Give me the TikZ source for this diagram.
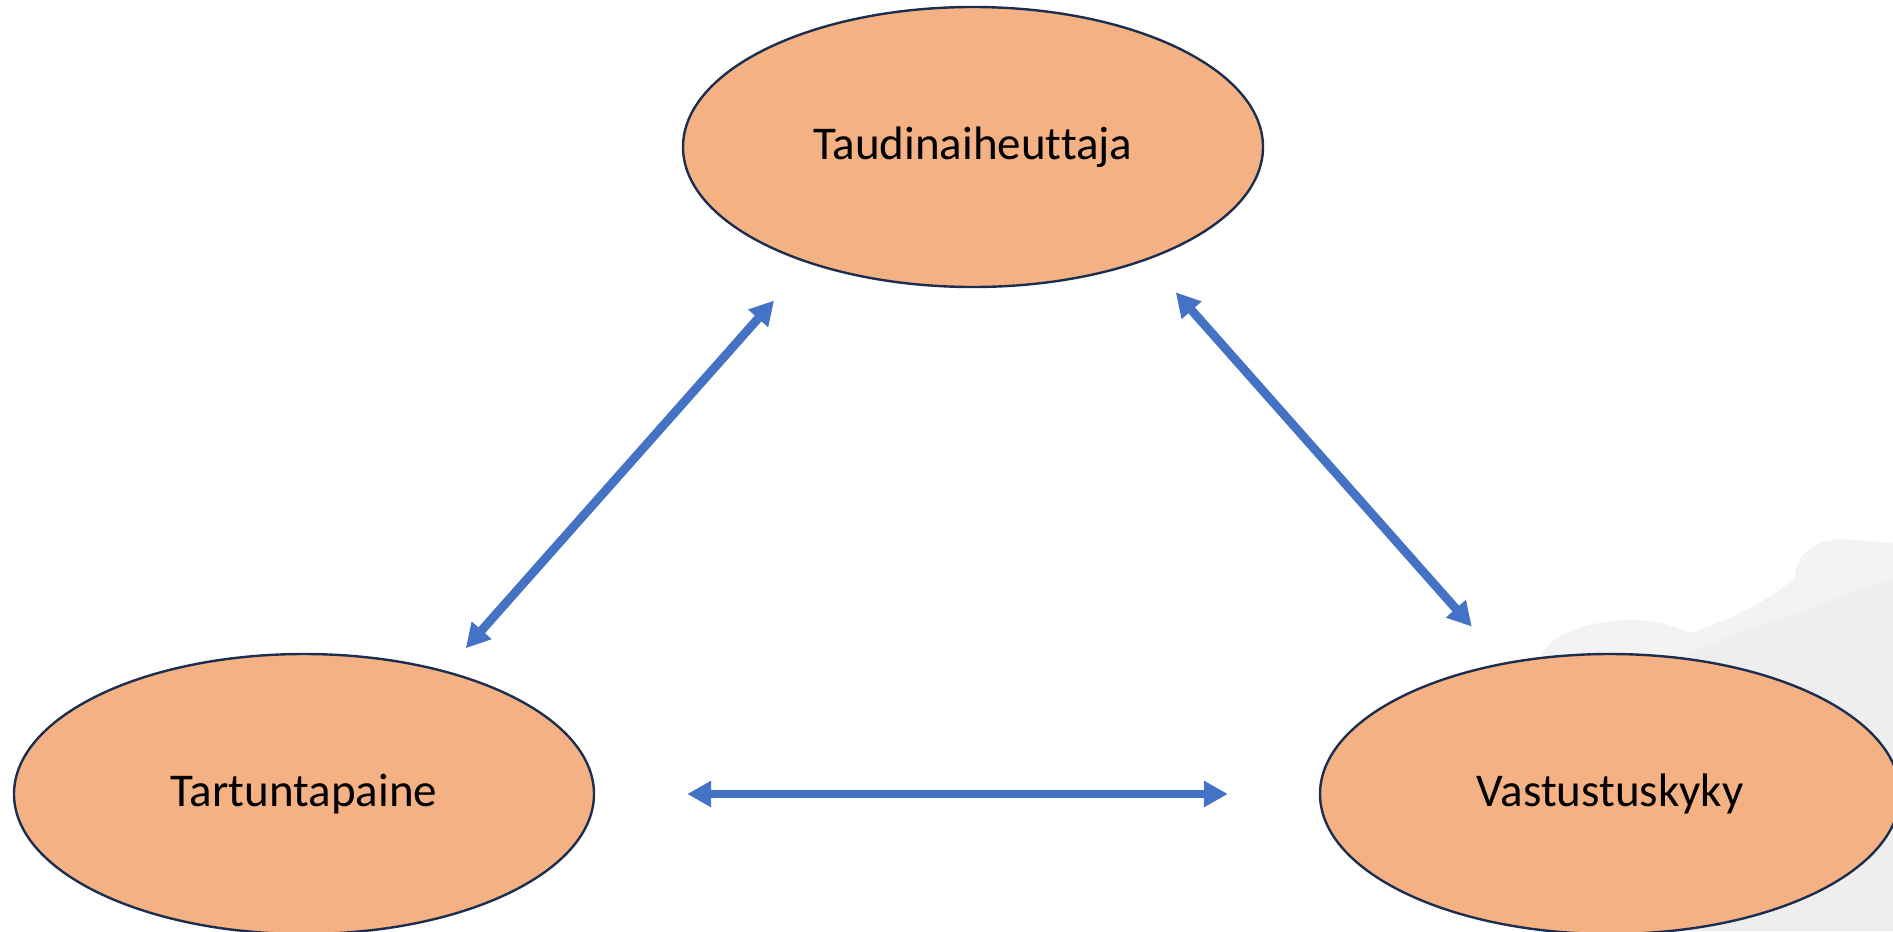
\documentclass[tikz,border=0pt]{standalone}
\usepackage{fontspec}
\setmainfont[Ligatures={NoCommon}]{Carlito}
\usetikzlibrary{arrows.meta,shapes.geometric}
\usepackage{xcolor}

\definecolor{ovalfill}{HTML}{F4B183}
\definecolor{ovalline}{HTML}{1C2E4F}
\definecolor{arrowblue}{HTML}{4472C4}
\definecolor{cloudlight}{HTML}{F3F3F4}
\definecolor{clouddark}{HTML}{EEEEEF}

\begin{document}
\begin{tikzpicture}[x=0.5pt, y=-0.5pt,
    every node/.style={
        ellipse,
        draw=ovalline,
        line width=1.2pt,
        fill=ovalfill,
        minimum width=290pt,
        minimum height=140pt,
        inner sep=0pt,
        font=\fontsize{23.5}{28}\selectfont
    },
    link/.style={<->, arrowblue, line width=4.4pt,
        >={Triangle[length=12pt, width=12.5pt]}}
]
    \clip (0,0) rectangle (1893,931);

    %background
    \fill[cloudlight] (1540,660) .. controls (1545,635) and (1590,620) .. (1630,620)
        .. controls (1660,620) and (1680,628) .. (1690,633)
        .. controls (1730,620) and (1770,600) .. (1795,578)
        .. controls (1795,555) and (1815,540) .. (1840,539)
        -- (1893,543) -- (1893,931) -- (1540,931) -- cycle;
    \fill[clouddark] (1673,660) .. controls (1720,640) and (1770,620) .. (1805,612)
        .. controls (1840,595) and (1870,585) .. (1893,580)
        -- (1893,931) -- (1673,931) -- cycle;

    %ovals
    \node (taudinaiheuttaja) [shift={(973,147)}]
    {
        Taudinaiheuttaja
    };
    \node (tartuntapaine) [shift={(304,794)}]
    {
        Tartuntapaine
    };
    \node (vastustuskyky) [shift={(1610,794)}]
    {
        Vastustuskyky
    };

    \draw[link, shorten <=15pt, shorten >=25pt] (tartuntapaine.41) to (taudinaiheuttaja.-145);
    \draw[link, shorten <=21.5pt, shorten >=24pt] (taudinaiheuttaja.-33.4) to (vastustuskyky.129);
    \draw[link, shorten <=46pt, shorten >=45.5pt] (tartuntapaine.east) to (vastustuskyky.west);

\end{tikzpicture}
\end{document}
